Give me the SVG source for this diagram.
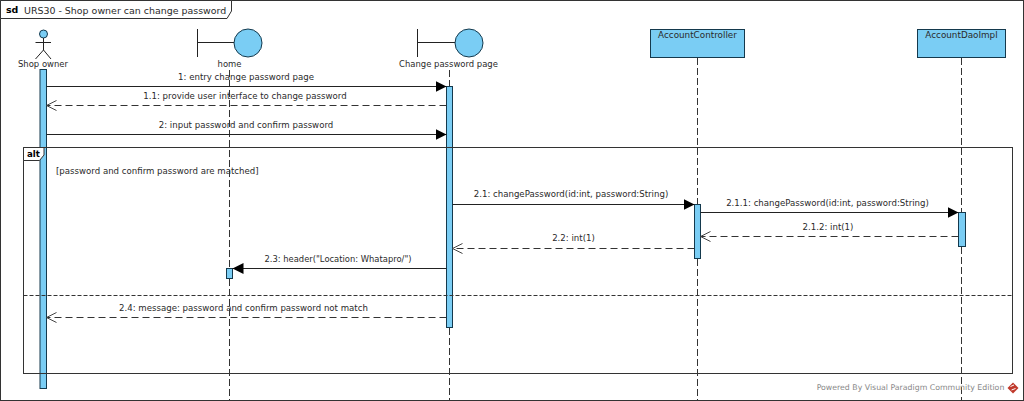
<svg xmlns="http://www.w3.org/2000/svg" width="1024" height="401" viewBox="0 0 1024 401">
<style>
text{font-family:"DejaVu Sans","Liberation Sans",sans-serif;font-size:8.6px;fill:#2a2a2a;text-anchor:middle}
.l{text-anchor:start}
.b{font-weight:bold;fill:#000}
.title{font-size:9.45px}
.name{font-size:8.45px}
.cls{font-size:8.8px}
.fr{fill:none;stroke:#333;stroke-width:1}
.tab{fill:#fff;stroke:#333;stroke-width:1}
.fill{fill:#7acdf4;stroke:#14394d;stroke-width:1}
.act{fill:#7acdf4;stroke:#14394d;stroke-width:1}
.life{stroke:#333;stroke-width:1;stroke-dasharray:7 3;fill:none}
.ln{stroke:#222;stroke-width:1;fill:none}
.msg{stroke:#222;stroke-width:1;fill:none}
.ret{stroke:#333;stroke-width:1;fill:none;stroke-dasharray:7 4}
.div{stroke:#333;stroke-width:1;fill:none;stroke-dasharray:4 2}
</style>
<defs>
<marker id="solid" markerUnits="userSpaceOnUse" markerWidth="12" markerHeight="12" refX="11" refY="6" orient="auto"><path d="M0 0.500 L11 6 L0 11.500Z" fill="#000"/></marker>
<marker id="open" markerUnits="userSpaceOnUse" markerWidth="12" markerHeight="12" refX="11" refY="6" orient="auto"><path d="M1 1 L11 6 L1 11" fill="none" stroke="#444" stroke-width="1"/></marker>
</defs>
<rect width="1024" height="401" fill="#fff"/>
<g id="frame">
<rect class="fr" x="0.500" y="0.500" width="1023" height="400"/>
<path class="tab" d="M0.500 0.500H231.500V11L227 18.500H0.500Z"/>
<text class="l b title" x="6" y="13">sd</text>
<text class="l title" x="24" y="13.500">URS30 - Shop owner can change password</text>
</g>
<g id="shop-owner">
<circle class="fill" cx="43.500" cy="34" r="4"/>
<path class="ln" d="M43.500 38V50M35.500 42.500H51M35.500 59L43.500 50L51 59"/>
<text class="name" x="43" y="67">Shop owner</text>
<rect class="act" x="40" y="69.500" width="6.500" height="319"/>
</g>
<g id="home">
<path class="ln" d="M197.500 29V57M197.500 42.500H234"/>
<circle class="fill" cx="248" cy="43" r="14"/>
<text class="name" x="229.500" y="67">home</text>
<rect class="act" x="226.500" y="268.500" width="6" height="10"/>
</g>
<g id="change-password-page">
<path class="ln" d="M417.500 29V57M417.500 42.500H455"/>
<circle class="fill" cx="469" cy="43" r="14"/>
<text class="name" x="448.500" y="67">Change password page</text>
<rect class="act" x="446.500" y="86.500" width="6" height="241"/>
</g>
<g id="account-controller">
<rect class="fill" x="650.500" y="29.500" width="94" height="28"/>
<text class="cls" x="697.500" y="38">AccountController</text>
<rect class="act" x="694.500" y="204.500" width="6" height="54"/>
</g>
<g id="account-dao-impl">
<rect class="fill" x="917.500" y="29.500" width="88" height="28"/>
<text class="cls" x="961.500" y="38">AccountDaoImpl</text>
<rect class="act" x="958.500" y="212.500" width="7" height="34"/>
</g>
<g id="alt-fragment">
<rect class="fr" x="23.500" y="147.500" width="989" height="226"/>
<path class="tab" d="M23.500 147.500H44V155L39.500 160.500H23.500Z"/>
<text class="b" x="33.500" y="156.500">alt</text>
<text class="l" x="56" y="174">[password and confirm password are matched]</text>
<path class="div" d="M23.500 295.500H1012.500"/>
</g>
<g id="labels">
<text x="246" y="80">1: entry change password page</text>
<text x="245" y="99">1.1: provide user interface to change password</text>
<text x="246" y="128">2: input password and confirm password</text>
<text x="571" y="197">2.1: changePassword(id:int, password:String)</text>
<text x="827.500" y="206">2.1.1: changePassword(id:int, password:String)</text>
<text x="828" y="230">2.1.2: int(1)</text>
<text x="573.500" y="241">2.2: int(1)</text>
<text x="338" y="262" style="font-size:8.4px">2.3: header("Location: Whatapro/")</text>
<text x="243.500" y="311">2.4: message: password and confirm password not match</text>
</g>
<g id="lifelines">
<path class="life" d="M229.500 70V268M229.500 279V401"/>
<path class="life" d="M449.500 70V86M449.500 328V401"/>
<path class="life" d="M697.500 58V204M697.500 259V401"/>
<path class="life" d="M961.500 58V212M961.500 247V401"/>
</g>
<g id="connectors">
<path class="msg" marker-end="url(#solid)" d="M46.500 86.500H446.500"/>
<path class="ret" marker-end="url(#open)" d="M446.500 105.500H46.500"/>
<path class="msg" marker-end="url(#solid)" d="M46.500 134.500H446.500"/>
<path class="msg" marker-end="url(#solid)" d="M452.500 204.500H694.500"/>
<path class="msg" marker-end="url(#solid)" d="M700.500 212.500H958.500"/>
<path class="ret" marker-end="url(#open)" d="M958.500 236.500H700.500"/>
<path class="ret" marker-end="url(#open)" d="M694.500 248.500H452.500"/>
<path class="msg" marker-end="url(#solid)" d="M446.500 268.500H232.500"/>
<path class="ret" marker-end="url(#open)" d="M446.500 317.500H46.500"/>
</g>
<g id="watermark">
<text x="910.500" y="390" style="font-size:7.8px;fill:#888">Powered By Visual Paradigm Community Edition</text>
<path d="M1013 382.500L1018.500 388L1013 393.500L1007.500 388Z" fill="#c0392b"/>
<path d="M1010.500 386.500L1014 385M1011.500 390L1015.500 388.500" stroke="#fff" stroke-width="1" fill="none"/>
</g>
</svg>
